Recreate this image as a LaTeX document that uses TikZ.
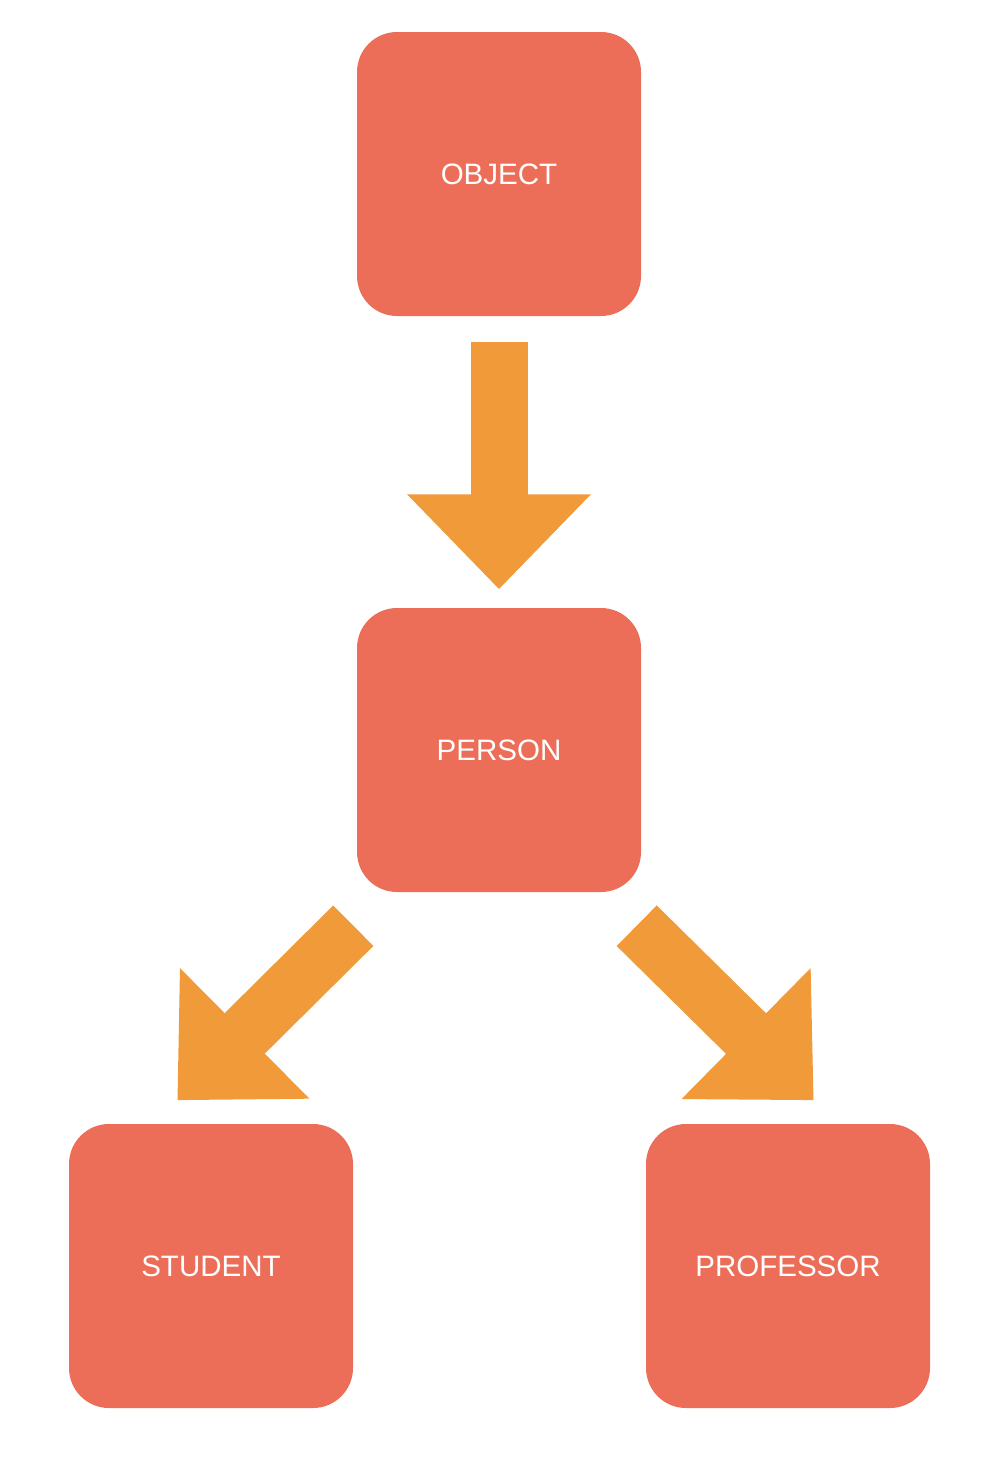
\documentclass[tikz,border=0pt]{standalone}
\usepackage{fontspec}
\setmainfont{Liberation Sans}
\usetikzlibrary{arrows.meta}
\definecolor{boxred}{HTML}{EC6E58}
\definecolor{arroworange}{HTML}{F09A3A}
\tikzset{
  classbox/.style={fill=boxred, draw=none, minimum width=2.84cm, minimum height=2.84cm,
    rounded corners=0.4cm, text=white, font=\fontsize{8.4}{10}\selectfont, inner sep=0pt},
  bigarrow/.style={draw=arroworange, line width=0.57cm,
    -{Triangle[length=0.95cm, width=1.78cm, fill=arroworange]}}
}

\begin{document}
\begin{tikzpicture}
  \useasboundingbox (0,0) rectangle (10,-14.78);
  % class boxes
  \node[classbox] (object) at (4.99,-1.74) {OBJECT};
  \node[classbox] (person) at (4.99,-7.50) {PERSON};
  \node[classbox] (student) at (2.11,-12.66) {STUDENT};
  \node[classbox] (professor) at (7.88,-12.66) {PROFESSOR};
  % arrow ends
  \coordinate (objout) at ([yshift=-0.25cm]object.south);
  \coordinate (personin) at ([yshift=0.18cm]person.north);
  \coordinate (personoutl) at ([shift={(-0.03,-0.33)}]person.south west);
  \coordinate (personoutr) at ([shift={(-0.05,-0.33)}]person.south east);
  \coordinate (studentin) at ([shift={(1.09,0.23)}]student.north west);
  \coordinate (professorin) at ([shift={(-1.17,0.23)}]professor.north east);
  % inheritance arrows
  \draw[bigarrow] (objout) -- (personin);
  \draw[bigarrow] (personoutl) -- (studentin);
  \draw[bigarrow] (personoutr) -- (professorin);
\end{tikzpicture}
\end{document}
